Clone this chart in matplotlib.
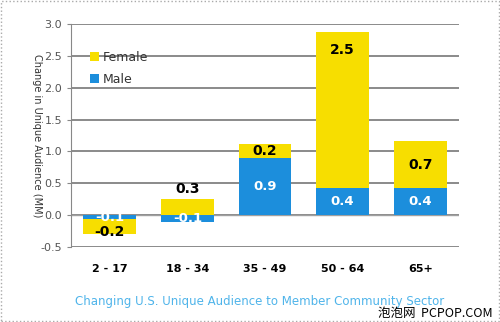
import matplotlib.pyplot as plt
from matplotlib.patches import Rectangle

# values (millions)
categories = ["2 - 17", "18 - 34", "35 - 49", "50 - 64", "65+"]
male = [-0.06, -0.11, 0.9, 0.42, 0.42]
female = [-0.24, 0.26, 0.21, 2.46, 0.74]
female_labels = ["-0.2", "0.3", "0.2", "2.5", "0.7"]
male_labels = ["-0.1", "-0.1", "0.9", "0.4", "0.4"]

YELLOW = "#F7DE00"
BLUE = "#1C8EDC"

fig = plt.figure(figsize=(5.0, 3.22), dpi=100)
ax = fig.add_axes([0.142, 0.233, 0.776, 0.692])

x = list(range(len(categories)))
w = 0.68

# female stacks on male when both have the same sign, otherwise starts at zero
bottoms = [m if (m * f) > 0 else 0 for m, f in zip(male, female)]
ax.bar(x, male, width=w, color=BLUE, zorder=3, label="Male")
ax.bar(x, female, width=w, bottom=bottoms, color=YELLOW, zorder=3, label="Female")

for i in x:
    my = male[i] / 2
    if categories[i] == "2 - 17":
        my = -0.03
    ax.text(i, my, male_labels[i], ha="center", va="center", color="white",
            fontsize=9.5, fontweight="bold", zorder=4)
    fy = bottoms[i] + female[i] / 2
    if categories[i] == "2 - 17":
        fy = -0.27
    if categories[i] == "18 - 34":
        fy = female[i] + 0.15
    if categories[i] == "50 - 64":
        fy = bottoms[i] + female[i] - 0.28
    ax.text(i, fy, female_labels[i], ha="center", va="center", color="black",
            fontsize=10, fontweight="bold", zorder=4)

ax.set_xlim(-0.5, len(categories) - 0.5)
ax.set_ylim(-0.5, 3.0)
ax.set_yticks([-0.5, 0, 0.5, 1.0, 1.5, 2.0, 2.5, 3.0])
ax.set_yticklabels(["-0.5", "0.0", "0.5", "1.0", "1.5", "2.0", "2.5", "3.0"])
ax.yaxis.grid(True, color="#8a8a8a", linewidth=1.4, zorder=0)
ax.axhline(0, color="#a0a0a0", linewidth=1.0, zorder=2)
ax.set_axisbelow(True)

ax.set_xticks(x)
ax.set_xticklabels(categories, fontsize=8, fontweight="bold")
ax.tick_params(axis="x", length=0, pad=12)
ax.tick_params(axis="y", labelsize=8, labelcolor="#555555", color="#888888", length=3)
for s in ["top", "right", "bottom"]:
    ax.spines[s].set_visible(False)
ax.spines["left"].set_color("#888888")

ax.set_ylabel("Change in Unique Audience (MM)", rotation=270, fontsize=7,
              color="#333333", va="center")
ax.yaxis.set_label_coords(-0.088, 0.5)

handles, labels = ax.get_legend_handles_labels()
ax.legend(handles[::-1], labels[::-1], loc="upper left", bbox_to_anchor=(0.02, 0.93),
          frameon=False, fontsize=9, handlelength=0.7, handleheight=0.7,
          handletextpad=0.3, labelspacing=0.7, labelcolor="#333333")

fig.text(0.52, 0.065, "Changing U.S. Unique Audience to Member Community Sector",
         ha="center", va="center", color="#4FB4EA", fontsize=8.5)
fig.text(0.985, 0.025, "泡泡网  PCPOP.COM", ha="right", va="center", color="black",
         fontsize=9, family=["Noto Sans CJK SC", "DejaVu Sans"])

fig.patches.append(Rectangle((0.002, 0.003), 0.995, 0.994, transform=fig.transFigure,
                             fill=False, edgecolor="#aaaaaa", linewidth=1, linestyle=":"))

fig.savefig("out.png", dpi=100)
